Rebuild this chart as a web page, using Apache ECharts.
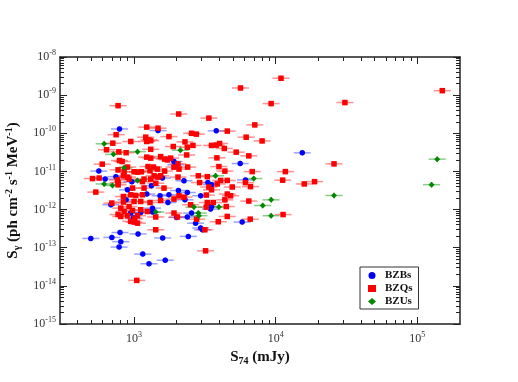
<!DOCTYPE html>
<html>
<head>
<meta charset="utf-8">
<script src="https://cdn.jsdelivr.net/npm/echarts@6/dist/echarts.min.js"></script>
<style>
  html, body { margin: 0; padding: 0; background: #fff; }
  #chart { width: 518px; height: 382px; }
</style>
</head>
<body>
<div id="chart"></div>
<script>
// [S74 (mJy), S_gamma (ph cm^-2 s^-1 MeV^-1)]
const bzb = [
  [789, 1.30e-10], [1476, 1.18e-10], [3804, 1.16e-10], [15400, 3.07e-11],
  [1913, 1.82e-11], [1975, 1.49e-11], [5613, 1.61e-11], [564, 1.02e-11],
  [744, 7.3e-12], [625, 6.3e-12], [1585, 6.7e-12], [964, 5.35e-12],
  [2251, 5.7e-12], [3320, 5.1e-12], [6118, 6.0e-12], [1326, 4.2e-12],
  [3524, 4.5e-12], [899, 3.3e-12], [2056, 3.16e-12], [2377, 2.8e-12],
  [1229, 2.55e-12], [1525, 2.3e-12], [1763, 2.44e-12], [2953, 2.3e-12],
  [879, 1.8e-12], [2287, 1.8e-12], [686, 1.34e-12], [1735, 1.53e-12],
  [1349, 1.09e-12], [1349, 8.6e-13], [3467, 1.03e-12], [3524, 1.2e-12],
  [948, 8.1e-13], [1115, 8.4e-13], [2547, 8.1e-13], [2377, 6.4e-13],
  [1998, 6.2e-13], [990, 6.0e-13], [5796, 4.7e-13], [2720, 4.4e-13],
  [2953, 3.3e-13], [3036, 2.96e-13], [2415, 1.98e-13], [796, 2.5e-13],
  [1067, 2.3e-13], [495, 1.75e-13], [697, 1.86e-13], [806, 1.44e-13],
  [1592, 1.8e-13], [784, 1.04e-13], [1152, 6.8e-14], [1660, 4.7e-14],
  [1275, 3.8e-14]
];
const bzq = [
  [10900, 2.77e-9], [5640, 1.54e-9], [150000, 1.31e-9], [30800, 6.4e-10],
  [9282, 6.0e-10], [771, 5.3e-10], [2066, 3.2e-10], [3374, 2.5e-10],
  [7118, 1.66e-10], [1229, 1.45e-10], [1476, 1.36e-10], [4550, 1.14e-10],
  [747, 9.2e-11], [2547, 1.0e-10], [2750, 9.5e-11], [6187, 7.9e-11],
  [1209, 7.9e-11], [1275, 6.7e-11], [1229, 6.1e-11], [1311, 6.4e-11],
  [1763, 8.2e-11], [948, 6.1e-11], [8017, 6.3e-11], [708, 5.5e-11],
  [2287, 5.96e-11], [4018, 5.4e-11], [3804, 4.9e-11], [3524, 4.8e-11],
  [2602, 4.8e-11], [2377, 4.3e-11], [1892, 4.5e-11], [4335, 4.0e-11],
  [639, 3.7e-11], [1311, 3.8e-11], [780, 3.26e-11], [879, 3.1e-11],
  [5262, 3.2e-11], [2351, 2.7e-11], [6459, 2.56e-11], [1229, 2.37e-11],
  [1311, 2.23e-11], [1541, 2.45e-11], [1644, 2.1e-11], [1718, 2.01e-11],
  [1812, 2.23e-11], [3844, 2.27e-11], [789, 1.93e-11], [823, 1.82e-11],
  [596, 1.55e-11], [2042, 1.58e-11], [1913, 1.30e-11], [2076, 1.15e-11],
  [25800, 1.58e-11], [1255, 1.34e-11], [1371, 1.30e-11], [1462, 1.15e-11],
  [899, 1.30e-11], [771, 1.10e-11], [851, 9.8e-12], [1000, 9.8e-12],
  [1057, 9.6e-12], [1127, 9.8e-12], [1296, 1.04e-11], [1644, 1.02e-11],
  [2390, 1.30e-11], [3972, 1.34e-11], [4376, 1.02e-11], [6826, 9.9e-12],
  [11700, 9.9e-12], [841, 7.7e-12], [899, 7.1e-12], [1384, 7.7e-12],
  [1476, 7.1e-12], [1541, 7.7e-12], [567, 6.7e-12], [509, 6.5e-12],
  [764, 6.0e-12], [922, 6.3e-12], [1176, 6.3e-12], [1311, 6.3e-12],
  [2042, 7.1e-12], [2842, 7.7e-12], [3289, 7.3e-12], [4083, 5.8e-12],
  [4550, 5.8e-12], [2904, 5.1e-12], [6118, 5.1e-12], [11200, 5.9e-12],
  [15900, 4.7e-12], [18800, 5.4e-12], [1146, 5.4e-12], [771, 5.1e-12],
  [771, 4.46e-12], [1423, 4.9e-12], [1627, 3.66e-12], [537, 2.87e-12],
  [975, 3.66e-12], [1176, 3.66e-12], [3866, 4.7e-12], [4934, 3.9e-12],
  [3524, 3.3e-12], [3374, 3.9e-12], [6637, 4.0e-12], [948, 2.44e-12],
  [1028, 2.34e-12], [1146, 2.44e-12], [2076, 2.3e-12], [841, 2.2e-12],
  [2251, 2.12e-12], [3236, 2.4e-12], [4550, 2.55e-12], [4800, 2.3e-12],
  [4376, 1.8e-12], [6459, 1.67e-12], [1000, 1.63e-12], [1115, 1.63e-12],
  [1296, 1.53e-12], [697, 1.48e-12], [841, 1.57e-12], [1913, 1.88e-12],
  [1541, 1.73e-12], [2506, 1.34e-12], [3289, 1.53e-12], [3623, 1.53e-12],
  [3236, 1.16e-12], [4478, 1.2e-12], [922, 1.2e-12], [806, 1.09e-12],
  [1115, 9.9e-13], [1242, 8.9e-13], [975, 9.5e-13], [851, 8.9e-13],
  [771, 7.4e-13], [806, 6.6e-13], [899, 6.9e-13], [1057, 6.9e-13],
  [1011, 5.7e-13], [1913, 8.1e-13], [2022, 6.4e-13], [1423, 6.4e-13],
  [1000, 4.7e-13], [1057, 4.4e-13], [948, 4.9e-13], [2766, 5.6e-13],
  [4550, 6.6e-13], [6607, 5.6e-13], [11270, 7.4e-13], [3929, 4.8e-13],
  [1423, 2.96e-13], [3162, 2.96e-13], [3200, 8.3e-14], [1045, 1.39e-14]
];
const bzu = [
  [615, 5.3e-11], [2124, 3.6e-11], [1057, 3.3e-11], [716, 2.8e-11],
  [851, 1.24e-11], [3761, 7.7e-12], [7000, 6.5e-12], [1057, 5.8e-12],
  [615, 4.7e-12], [704, 4.3e-12], [1423, 8.6e-13], [2646, 1.16e-12],
  [3972, 1.16e-12], [2842, 8.1e-13], [2871, 6.9e-13], [9282, 1.8e-12],
  [8096, 1.28e-12], [9282, 6.9e-13], [25800, 2.34e-12], [138000, 2.1e-11],
  [126000, 4.5e-12]
];

const xDecades = [3, 4, 5];  // 10^3 .. 10^5 mJy
const yDecades = [-15, -14, -13, -12, -11, -10, -9, -8];
const X_MIN = 300, X_MAX = 200000;
const ERR_X = 0.06, ERR_Y = 0.07; // half widths of the error bars, in dex

const serif = 'Liberation Serif';
const lg = v => Math.log10(v);
const xMin = lg(X_MIN), xMax = lg(X_MAX);
const yMin = yDecades[0], yMax = yDecades[yDecades.length - 1];

// minor ticks at 2..9 x 10^n
const minorX = [], minorY = [];
for (let d = 2; d <= 5; d++) {
  for (let k = 2; k <= 9; k++) {
    const v = d + lg(k);
    if (v > xMin && v < xMax) minorX.push(v);
  }
}
for (let d = yMin; d < yMax; d++) {
  for (let k = 2; k <= 9; k++) minorY.push(d + lg(k));
}

const labelRich = {
  b: { fontFamily: serif, fontSize: 12, color: '#333', lineHeight: 16 },
  s: { fontFamily: serif, fontSize: 8, color: '#333', lineHeight: 8, verticalAlign: 'top' }
};
const powLabel = v => '{b|10}{s|' + v + '}';

const lineStyle = { color: '#222', width: 1.5 };

const makeX = (pos, ticks, len, main) => ({
  type: 'value', position: pos, min: xMin, max: xMax, gridIndex: 0,
  axisLine: { show: main, onZero: false, lineStyle },
  axisTick: { show: true, inside: true, length: len, customValues: ticks, lineStyle: { color: '#222', width: 1 } },
  axisLabel: main && pos === 'bottom'
    ? { show: true, customValues: xDecades, margin: 7, formatter: powLabel, rich: labelRich }
    : { show: false },
  splitLine: { show: false },
  name: main && pos === 'bottom'
    ? '{b|S}{sub|74}{b| (mJy)}' : '',
  nameLocation: 'middle', nameGap: 22,
  nameTextStyle: {
    rich: {
      b: { fontFamily: serif, fontSize: 15, fontWeight: 'bold', color: '#111', lineHeight: 18 },
      sub: { fontFamily: serif, fontSize: 10, fontWeight: 'bold', color: '#111', lineHeight: 10, verticalAlign: 'bottom' }
    }
  }
});

const makeY = (pos, ticks, len, main) => ({
  type: 'value', position: pos, min: yMin, max: yMax, gridIndex: 0,
  axisLine: { show: main, onZero: false, lineStyle },
  axisTick: { show: true, inside: true, length: len, customValues: ticks, lineStyle: { color: '#222', width: 1 } },
  axisLabel: main && pos === 'left'
    ? { show: true, customValues: yDecades, margin: 4, formatter: powLabel, rich: labelRich }
    : { show: false },
  splitLine: { show: false },
  name: main && pos === 'left'
    ? '{b|S}{sub|γ}{b| (ph cm}{sup|-2}{b| s}{sup|-1}{b| MeV}{sup|-1}{b|)}' : '',
  nameLocation: 'middle', nameGap: 34, nameRotate: 90,
  nameTextStyle: {
    rich: {
      b: { fontFamily: serif, fontSize: 15, fontWeight: 'bold', color: '#111', lineHeight: 18 },
      sub: { fontFamily: serif, fontSize: 10, fontWeight: 'bold', color: '#111', lineHeight: 10, verticalAlign: 'bottom' },
      sup: { fontFamily: serif, fontSize: 10, fontWeight: 'bold', color: '#111', lineHeight: 10, verticalAlign: 'top' }
    }
  }
});

const toLog = arr => arr.map(d => [lg(d[0]), lg(d[1])]);

const errorSeries = (name, data, color) => ({
  type: 'custom', name: name, xAxisIndex: 0, yAxisIndex: 0, silent: true,
  encode: { x: 0, y: 1 },
  data: toLog(data),
  renderItem: (params, api) => {
    const x = api.value(0), y = api.value(1);
    const l = api.coord([x - ERR_X, y]), r = api.coord([x + ERR_X, y]);
    const t = api.coord([x, y + ERR_Y]), b = api.coord([x, y - ERR_Y]);
    const style = { stroke: color, lineWidth: 1.5, opacity: 0.5 };
    return {
      type: 'group',
      children: [
        { type: 'line', shape: { x1: l[0], y1: l[1], x2: r[0], y2: r[1] }, style },
        { type: 'line', shape: { x1: t[0], y1: t[1], x2: b[0], y2: b[1] }, style }
      ]
    };
  }
});

const pointSeries = (name, data, color, symbol, size) => ({
  type: 'scatter', name: name, xAxisIndex: 0, yAxisIndex: 0,
  data: toLog(data), symbol: symbol, symbolSize: size,
  itemStyle: { color: color, opacity: 1 },
  emphasis: { disabled: true }
});

const chart = echarts.init(document.getElementById('chart'), null, { renderer: 'canvas' });
chart.setOption({
  animation: false,
  backgroundColor: '#fff',
  grid: { left: 60, top: 57, width: 400, height: 267, outerBoundsMode: 'none' },
  xAxis: [
    makeX('bottom', xDecades, 7, true),
    makeX('top', xDecades, 7, true),
    makeX('bottom', minorX, 4, false),
    makeX('top', minorX, 4, false)
  ],
  yAxis: [
    makeY('left', yDecades, 7, true),
    makeY('right', yDecades, 7, true),
    makeY('left', minorY, 4, false),
    makeY('right', minorY, 4, false)
  ],
  legend: {
    data: ['BZBs', 'BZQs', 'BZUs'],
    orient: 'vertical', left: 360, top: 267,
    padding: [3, 6, 2, 8], itemGap: 2, itemWidth: 8, itemHeight: 7,
    backgroundColor: '#fff', borderColor: '#333', borderWidth: 1,
    textStyle: { fontFamily: serif, fontSize: 11, fontWeight: 'bold', color: '#111', padding: [0, 0, 0, 4] },
    selectedMode: false
  },
  series: [
    errorSeries('bzb-err', bzb, '#3344ff'),
    errorSeries('bzq-err', bzq, '#ff2222'),
    errorSeries('bzu-err', bzu, '#119911'),
    pointSeries('BZBs', bzb, '#0000ff', 'circle', 5.5),
    pointSeries('BZQs', bzq, '#ff0000', 'rect', 5.5),
    pointSeries('BZUs', bzu, '#008800', 'diamond', 6)
  ]
});
</script>
</body>
</html>
